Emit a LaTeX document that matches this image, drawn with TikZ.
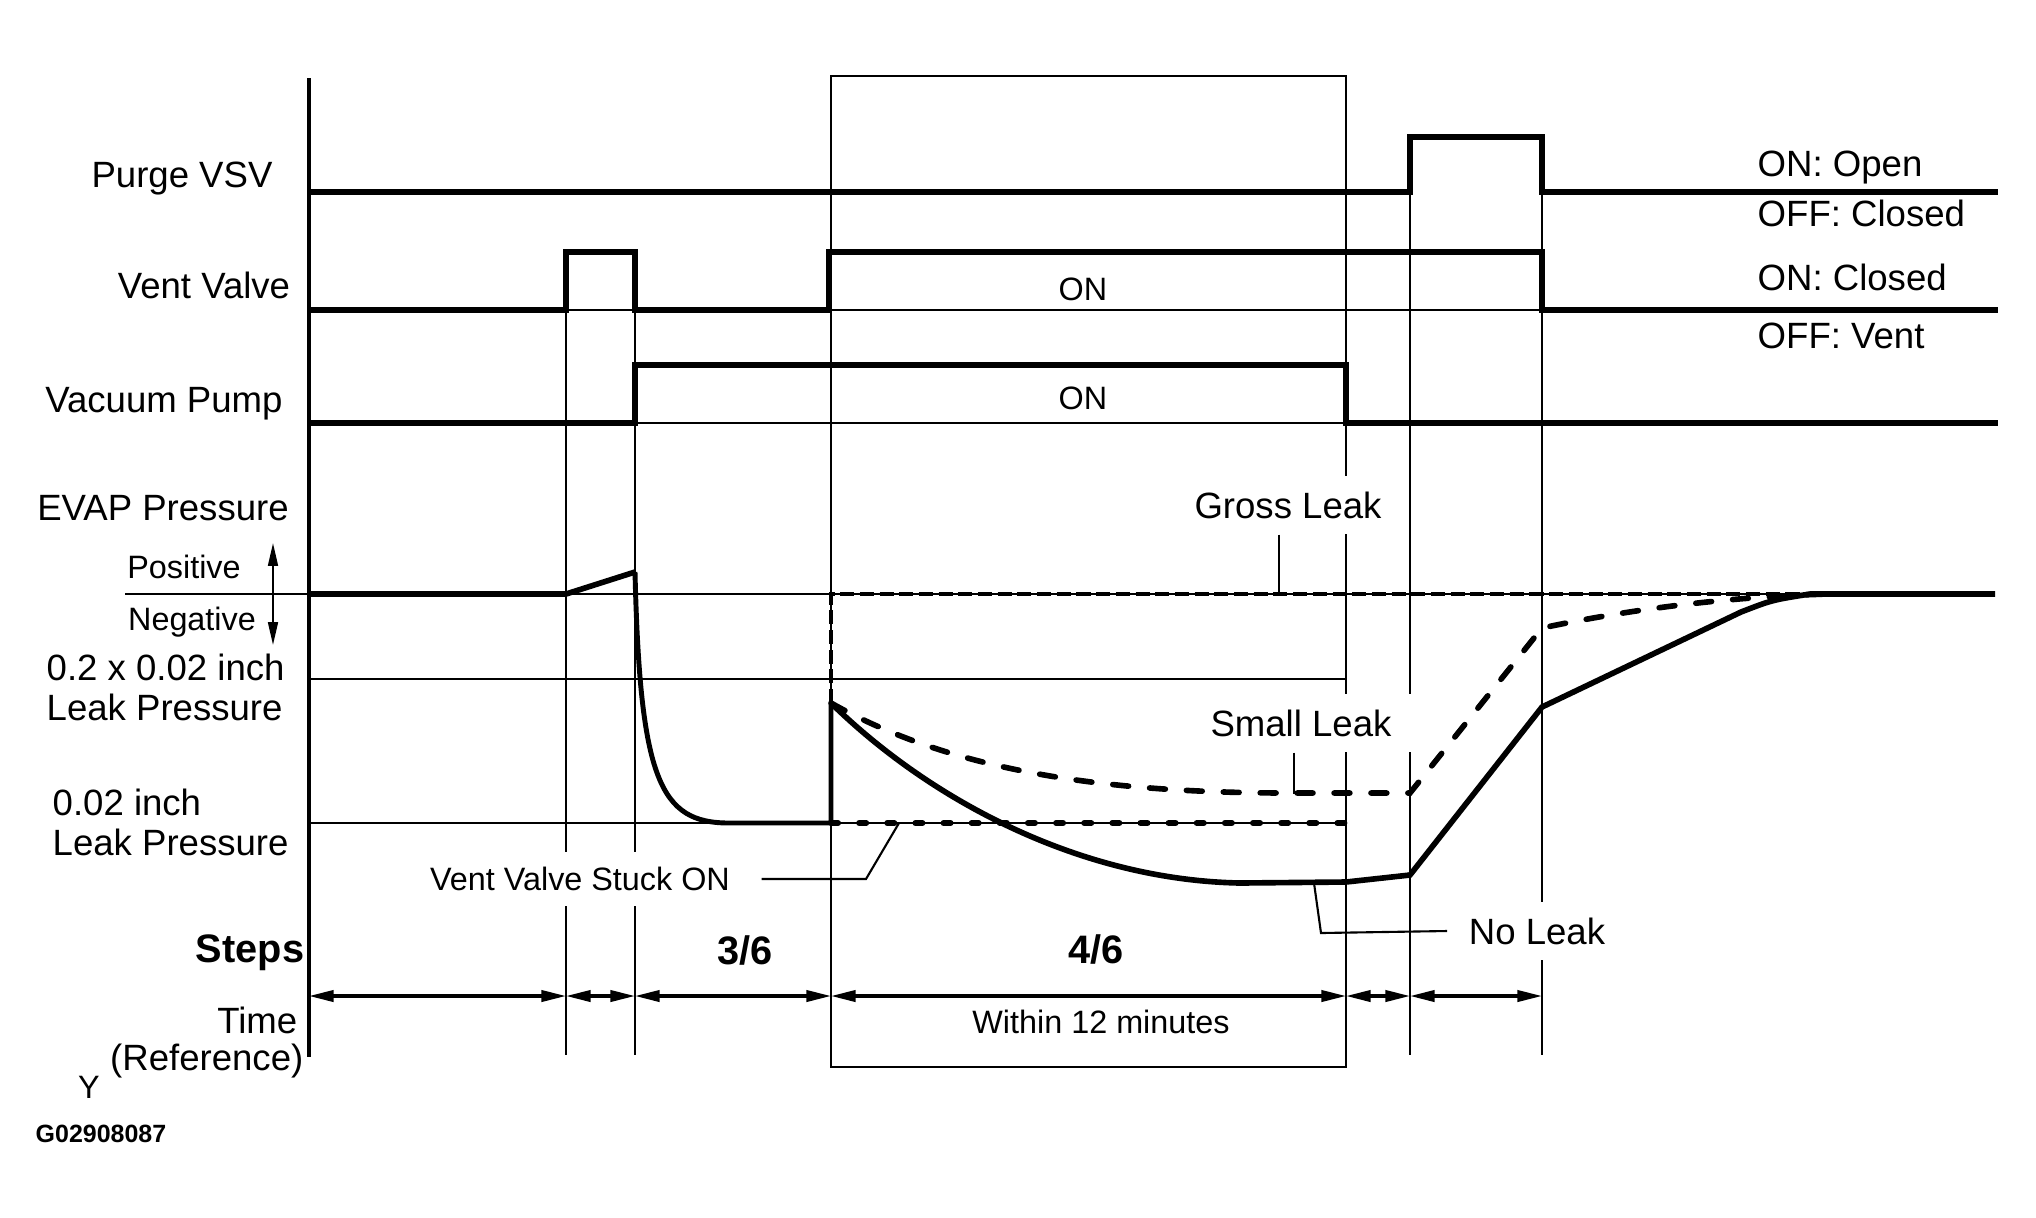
\documentclass[tikz,border=0pt]{standalone}
\usepackage{fontspec}
\setmainfont{Liberation Sans}
\usetikzlibrary{arrows.meta}
\tikzset{
  sig/.style={line width=1.6pt},
  guide/.style={line width=0.5pt},
  lead/.style={line width=0.6pt},
  lbl/.style={font=\fontsize{10.4}{12}\selectfont, text height=7.4pt, text depth=0pt, inner sep=0pt},
  sml/.style={font=\fontsize{9.2}{11}\selectfont, text height=6.6pt, text depth=0pt, inner sep=0pt},
  stp/.style={font=\bfseries\fontsize{11.3}{13}\selectfont, text height=8.1pt, text depth=0pt, inner sep=0pt},
  tag/.style={fill=white, inner xsep=6pt, inner ysep=4.5pt},
  gross/.style={line width=1.1pt, dash pattern=on 4pt off 1.6pt},
  small leak/.style={line width=1.6pt, line cap=round, dash pattern=on 4.5pt off 6pt},
  stuck/.style={line width=1.7pt, line cap=round, dash pattern=on 2pt off 6pt},
  span/.style={line width=0.9pt, {Triangle[length=7pt,width=3.2pt]}-{Triangle[length=7pt,width=3.2pt]}}
}
\begin{document}
\begin{tikzpicture}[x=0.01cm, y=-0.01cm]
\useasboundingbox (0,0) rectangle (2036,1217);
\draw[line width=1pt] (309,78) -- (309,1057);
\draw[line width=0.8pt] (831,76) rectangle (1346,1067);
\draw[guide] (566,310) -- (566,1055) (635,310) -- (635,1055);
\draw[guide] (1410,192) -- (1410,1055) (1542,192) -- (1542,1055);
\draw[sig] (309,192) -- (1410,192) -- (1410,137) -- (1542,137) -- (1542,192) -- (1998,192);
\draw[sig] (309,310) -- (566,310) -- (566,252) -- (635,252) -- (635,310) -- (829,310) -- (829,252) -- (1542,252) -- (1542,310) -- (1998,310);
\draw[guide] (566,310) -- (1542,310);
\draw[sig] (309,423) -- (635,423) -- (635,365) -- (1346,365) -- (1346,423) -- (1998,423);
\draw[guide] (635,423) -- (1346,423);
\node[sml] (venton) at (1083,289) {ON};
\node[sml] (pumpon) at (1083,398) {ON};
\draw[guide] (125,594) -- (1995,594);
\draw[guide] (309,679) -- (1346,679);
\draw[guide] (309,823) -- (1346,823);
\draw[sig] (309,594) -- (566,594) -- (635,572);
\draw[line width=1.4pt] (635,572) .. controls (640,780) and (660,823) .. (729,823) -- (831,823) -- (831,703);
\draw[gross] (831,703) -- (831,594) -- (1840,594);
\draw[stuck] (831,823) -- (1346,823);
\draw[small leak] (831,703) .. controls (950,770) and (1100,793) .. (1290,793) -- (1410,793) -- (1542,628) .. controls (1650,605) and (1750,596) .. (1830,594);
\draw[sig] (831,703) .. controls (930,800) and (1080,880) .. (1240,883) -- (1346,882) -- (1410,875) -- (1542,707) -- (1741,612) .. controls (1772,600) .. (1810,594) -- (1995,594);
\draw[lead, {Triangle[length=6.5pt,width=2.8pt]}-{Triangle[length=6.5pt,width=2.8pt]}] (273,543) -- (273,645);
\foreach \a/\b in {309/566, 566/635, 635/831, 831/1346, 1346/1410, 1410/1542}
  \draw[span] (\a,996) -- (\b,996);
\node[lbl] (purge) at (182,174) {Purge VSV};
\node[lbl] (vent) at (204,285) {Vent Valve};
\node[lbl] (pump) at (164,399) {Vacuum Pump};
\node[lbl] (evap) at (163,507) {EVAP Pressure};
\node[sml] (pos) at (184,567) {Positive};
\node[sml] (neg) at (192,619) {Negative};
\node[lbl, anchor=west] (ratio) at (46,667) {0.2 x 0.02 inch};
\node[lbl, anchor=west] (ratiop) at (46,707) {Leak Pressure};
\node[lbl, anchor=west] (inch) at (52,802) {0.02 inch};
\node[lbl, anchor=west] (inchp) at (52,842) {Leak Pressure};
\node[stp] (steps) at (250,948) {Steps};
\node[lbl, anchor=east] (time) at (298,1020) {Time};
\node[lbl, anchor=east] (ref) at (304,1057) {(Reference)};
\node[sml] (y) at (89,1087) {Y};
\node[font=\bfseries\fontsize{7.1}{9}\selectfont, text height=5.2pt, text depth=0pt, inner sep=0pt] (code) at (101,1133) {G02908087};
\node[lbl, anchor=west] (open) at (1757,163) {ON: Open};
\node[lbl, anchor=west] (closed) at (1757,213) {OFF: Closed};
\node[lbl, anchor=west] (vclosed) at (1757,277) {ON: Closed};
\node[lbl, anchor=west] (vvent) at (1757,335) {OFF: Vent};
\node[stp] (s3) at (745,950) {3/6};
\node[stp] (s4) at (1096,949) {4/6};
\node[sml] (within) at (1101,1022) {Within 12 minutes};
\node[lbl, tag] (grossl) at (1288,505) {Gross Leak};
\node[lbl, tag] (smalll) at (1301,723) {Small Leak};
\node[lbl, tag] (nol) at (1537,931) {No Leak};
\node[sml, tag] (stuckl) at (580,879) {Vent Valve Stuck ON};
\coordinate (gl) at (1279,594);
\coordinate (sl) at (1294,793);
\coordinate (nl) at (1314,883);
\coordinate (vl) at (899,823);
\draw[lead] (grossl.south -| gl) -- (gl);
\draw[lead] (smalll.south -| sl) -- (sl) -- ++(6,0);
\draw[lead] (nl) -- (1321,933) -- (nol.west);
\draw[lead] (stuckl.east) ++(10,0) -- (866,879) -- (vl);
\end{tikzpicture}
\end{document}
